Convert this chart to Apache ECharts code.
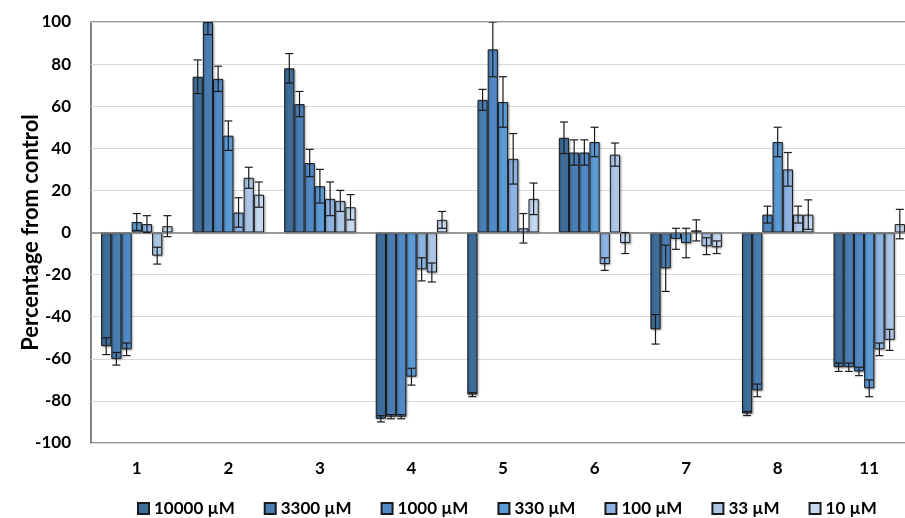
<!DOCTYPE html>
<html>
<head>
<meta charset="utf-8">
<script src="https://cdn.jsdelivr.net/npm/echarts@6/dist/echarts.min.js"></script>
<style>
html,body{margin:0;padding:0;background:#fff;}
#chart{width:905px;height:518px;}
</style>
</head>
<body>
<div id="chart"></div>
<script>
const categories = ['1','2','3','4','5','6','7','8','11'];
const seriesNames = ['10000 µM','3300 µM','1000 µM','330 µM','100 µM','33 µM','10 µM'];
const yTicks = [-100,-80,-60,-40,-20,0,20,40,60,80,100];

const c10000 = [-54, 74, 78, -88.5, -77, 45, -46, -86, -64];
const c3300  = [-60, 100, 61, -87.5, 63, 38, -17, -75, -64];
const c1000  = [-55.5, 73, 33, -87.5, 87, 38, -3, 8.5, -66];
const c330   = [5, 46, 22, -68.5, 62, 43, -5, 43, -74];
const c100   = [4, 9.5, 16, -17.5, 35, -15, 1, 30, -55.5];
const c33    = [-11, 26, 15, -19, 2, 37, -6.5, 8.5, -51];
const c10    = [3, 18, 12, 6, 16, -5, -7, 8.5, 4];

const e10000 = [4, 8, 7, 1.5, 1, 7.5, 7, 1, 2];
const e3300  = [3, 6, 6, 1, 5, 6, 11, 3, 2];
const e1000  = [3, 6, 6.5, 1, 13, 6, 5, 4, 2];
const e330   = [4, 7, 8, 4, 12, 7, 7, 7, 4];
const e100   = [4, 7, 8, 5.5, 12, 3, 5, 8, 3];
const e33    = [4, 5, 5, 4.5, 7, 5.5, 4, 4, 5];
const e10    = [5, 6, 6, 4, 7.5, 5, 3, 7, 7];

const values = [c10000, c3300, c1000, c330, c100, c33, c10];
const errors = [e10000, e3300, e1000, e330, e100, e33, e10];
const colors = ['#3F6D99','#4A7DB2','#5089C6','#5B9BD5','#8DB3E2','#ADC6E6','#C6D9F0'];

const FONT = 'Lato';
const CAT_GAP = 0.22;
const nS = seriesNames.length;

const series = [];
values.forEach((vals, si) => {
  const s = {
    type: 'bar',
    name: seriesNames[si],
    data: vals,
    barGap: '0%',
    barCategoryGap: (CAT_GAP*100) + '%',
    itemStyle: {
      color: colors[si],
      borderColor: '#1a1a1a',
      borderWidth: 1,
      shadowColor: 'rgba(0,0,0,0.3)',
      shadowBlur: 2,
      shadowOffsetX: 1,
      shadowOffsetY: 1
    },
    emphasis: {disabled: true}
  };
  if (si === 0) {
    s.markLine = {
      silent: true,
      symbol: 'none',
      label: {show: false},
      lineStyle: {color: '#808080', width: 1.6, type: 'solid'},
      data: [{yAxis: 0}]
    };
  }
  series.push(s);
});

errors.forEach((errs, si) => {
  series.push({
    type: 'custom',
    clip: true,
    z: 5,
    data: errs.map((e, i) => [i, values[si][i], e]),
    renderItem: function (params, api) {
      const x = api.value(0), v = api.value(1), e = api.value(2);
      const c = api.coord([x, v]);
      const catW = api.size([1, 0])[0];
      const bw = catW * (1 - CAT_GAP) / nS;
      const cx = c[0] + (si - (nS - 1) / 2) * bw;
      const yt = api.coord([x, v + e])[1];
      const yb = api.coord([x, v - e])[1];
      const cap = 4;
      const st = {stroke: '#1a1a1a', lineWidth: 1.2};
      return {
        type: 'group',
        children: [
          {type: 'line', shape: {x1: cx, y1: yt, x2: cx, y2: yb}, style: st},
          {type: 'line', shape: {x1: cx - cap, y1: yt, x2: cx + cap, y2: yt}, style: st},
          {type: 'line', shape: {x1: cx - cap, y1: yb, x2: cx + cap, y2: yb}, style: st}
        ]
      };
    }
  });
});

const chart = echarts.init(document.getElementById('chart'), null, {renderer: 'canvas'});
chart.setOption({
  animation: false,
  backgroundColor: '#fff',
  textStyle: {fontFamily: FONT},
  grid: {
    left: 91, top: 22, width: 824, height: 421,
    outerBoundsMode: 'none',
    containLabel: false,
    show: true, borderColor: '#333', borderWidth: 1.2, backgroundColor: 'transparent'
  },
  legend: {
    data: seriesNames,
    left: 132, top: 495,
    itemWidth: 11, itemHeight: 11, itemGap: 29,
    icon: 'rect',
    textStyle: {fontFamily: FONT, fontWeight: 'bold', fontSize: 17, color: '#000'}
  },
  xAxis: {
    type: 'category',
    data: categories,
    axisLine: {show: false, onZero: false},
    axisTick: {show: false},
    axisLabel: {fontFamily: FONT, fontWeight: 'bold', fontSize: 17, color: '#000', margin: 17},
    splitLine: {show: false}
  },
  yAxis: {
    type: 'value',
    min: yTicks[0], max: yTicks[yTicks.length - 1], interval: 20,
    name: 'Percentage from control',
    nameLocation: 'middle',
    nameRotate: 90,
    nameGap: 49,
    nameMoveOverlap: false,
    nameTextStyle: {fontFamily: FONT, fontWeight: 'bold', fontSize: 22, color: '#000'},
    axisLine: {show: false},
    axisTick: {show: false},
    axisLabel: {fontFamily: FONT, fontWeight: 'bold', fontSize: 17, color: '#000', margin: 20},
    splitLine: {show: true, lineStyle: {color: '#d9d9d9', width: 1.2}}
  },
  series: series
});
</script>
</body>
</html>
